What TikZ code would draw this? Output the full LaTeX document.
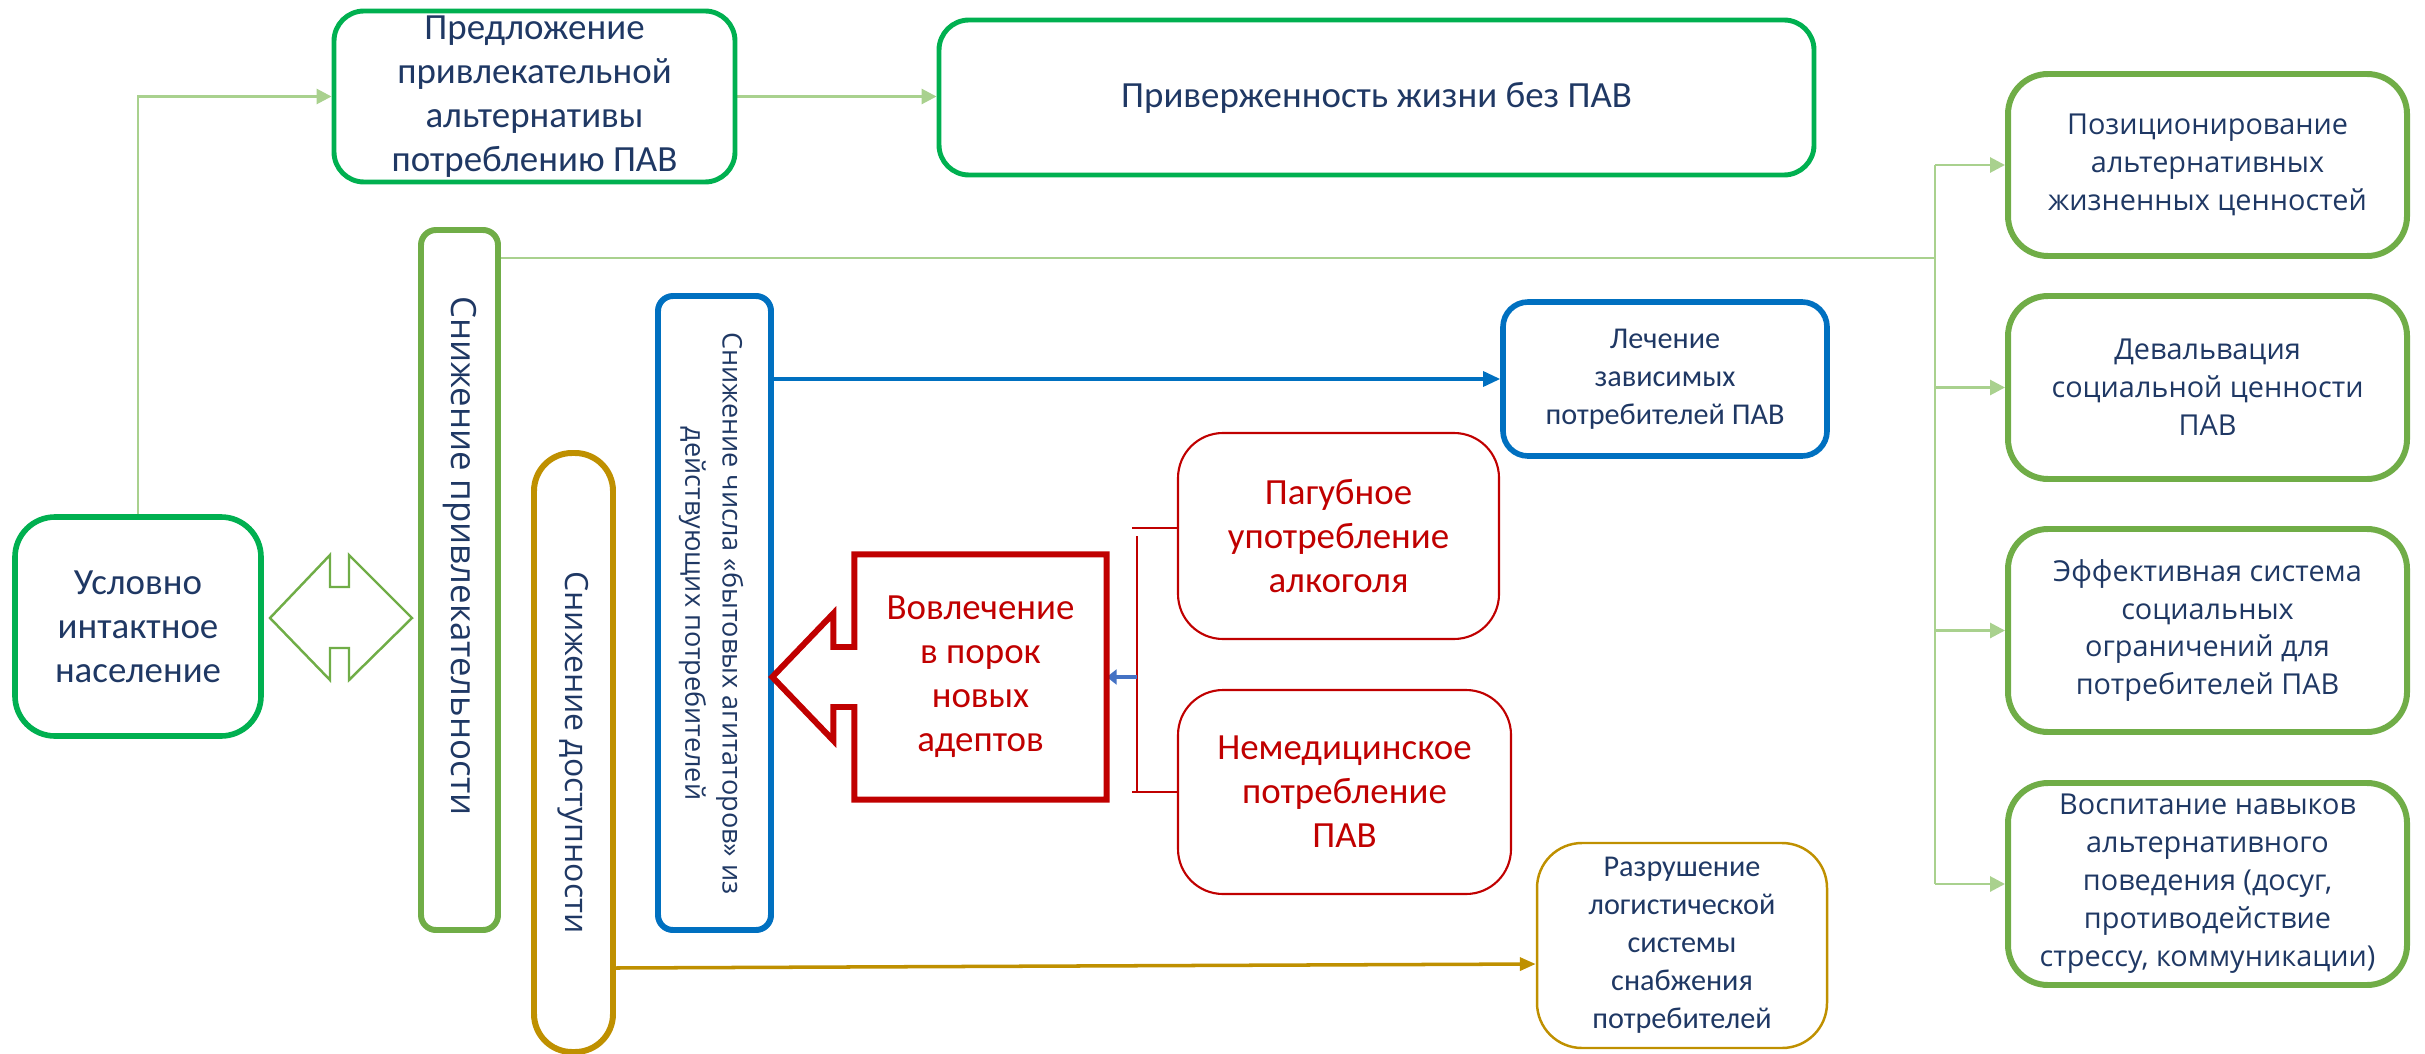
\documentclass[tikz,border=0pt]{standalone}
\usepackage{fontspec}
\setmainfont{Carlito}
\newfontfamily\wideface{Open Sans}
\usepackage{tikz}
\usetikzlibrary{arrows.meta}
\pgfdeclarelayer{bg}
\pgfsetlayers{bg,main}
\definecolor{navy}{HTML}{1F3864}
\definecolor{dgreen}{HTML}{00B050}
\definecolor{lgreen}{HTML}{70AD47}
\definecolor{pgreen}{HTML}{A9D18E}
\definecolor{dblue}{HTML}{0070C0}
\definecolor{lblue}{HTML}{4472C4}
\definecolor{gold}{HTML}{BF9000}
\definecolor{dred}{HTML}{C00000}
\newcommand{\txtbig}{\fontsize{10.5}{12.5}\selectfont}
\newcommand{\txtsmall}{\fontsize{8.6}{10.8}\selectfont}
\newcommand{\txtwide}{\wideface\fontsize{8.2}{10.8}\selectfont}
\tikzset{
        txtbox/.style={align=center, inner sep=0pt, text=navy, font=\txtsmall},
        gbox/.style={txtbox, draw=dgreen, line width=1.4pt, rounded corners=0.3cm, font=\txtbig},
        rbox/.style={txtbox, draw=lgreen, line width=1.7pt, rounded corners=0.4cm, minimum width=3.99cm, font=\txtwide},
        redbox/.style={txtbox, draw=dred, line width=0.6pt, rounded corners=0.45cm, text=dred, font=\txtbig},
        vbar/.style={inner sep=0pt, line width=1.7pt},
        conn/.style={draw=pgreen, line width=0.8pt, -{Triangle[length=1.5mm,width=1.5mm]}},
}

\begin{document}
\begin{tikzpicture}
        \useasboundingbox (0cm, 0cm) rectangle (24.250000cm, -10.540000cm);
        \node (b0) [gbox, line width=1.6pt, rounded corners=0.4cm, minimum width=2.46cm, minimum height=2.19cm] at (1.380000cm, -6.265000cm) {Условно\\интактное\\население};
        \node (b1) [gbox, minimum width=4.01cm, minimum height=1.71cm] at (5.345000cm, -0.965000cm) {Предложение\\привлекательной\\альтернативы\\потреблению ПАВ};
        \node (b2) [gbox, minimum width=8.75cm, minimum height=1.55cm] at (13.765000cm, -0.975000cm) {Приверженность жизни без ПАВ};
        \node (b3) [vbar, draw=lgreen, rounded corners=0.15cm, minimum width=0.77cm, minimum height=7.00cm] at (4.595000cm, -5.800000cm) {};
        \node (b3t) [rotate=-90, text=navy, font={\wideface\fontsize{9.9}{12}\selectfont}] at (4.595000cm, -5.560000cm) {Снижение привлекательности};
        \node (b4) [vbar, draw=gold, rounded corners=0.38cm, minimum width=0.79cm, minimum height=5.99cm] at (5.735000cm, -7.525000cm) {};
        \node (b4t) [rotate=-90, text=navy, font={\wideface\fontsize{9.1}{12}\selectfont}] at (5.735000cm, -7.525000cm) {Снижение доступности};
        \node (b5) [vbar, draw=dblue, rounded corners=0.15cm, minimum width=1.13cm, minimum height=6.34cm] at (7.145000cm, -6.130000cm) {};
        \node (b5t) [rotate=-90, text=navy, font={\wideface\fontsize{7.7}{10.6}\selectfont}, align=center] at (7.110000cm, -6.135000cm) {Снижение числа «бытовых агитаторов» из\\действующих потребителей};
        \node (b6) [txtbox, draw=dblue, line width=1.6pt, rounded corners=0.25cm, minimum width=3.24cm, minimum height=1.54cm] at (16.650000cm, -3.790000cm) {Лечение\\зависимых\\потребителей ПАВ};
        \node (b7) [redbox, minimum width=3.21cm, minimum height=2.06cm] at (13.385000cm, -5.360000cm) {Пагубное\\употребление\\алкоголя};
        \node (b8) [redbox, minimum width=3.33cm, minimum height=2.04cm] at (13.445000cm, -7.920000cm) {Немедицинское\\потребление\\ПАВ};
        \node (b9) [txtbox, text=dred, font=\txtbig, minimum width=2.51cm, minimum height=2.44cm] at (9.805000cm, -6.770000cm) {Вовлечение\\в порок\\новых\\адептов};
        \node (b10) [txtbox, draw=gold, line width=0.7pt, rounded corners=0.45cm, minimum width=2.90cm, minimum height=2.05cm] at (16.820000cm, -9.455000cm) {Разрушение\\логистической\\системы\\снабжения\\потребителей};
        \node (b11) [rbox, minimum height=1.82cm] at (22.075000cm, -1.650000cm) {Позиционирование\\альтернативных\\жизненных ценностей};
        \node (b12) [rbox, minimum height=1.83cm] at (22.075000cm, -3.875000cm) {Девальвация\\социальной ценности\\ПАВ};
        \node (b13) [rbox, minimum height=2.03cm] at (22.075000cm, -6.305000cm) {Эффективная система\\социальных\\ограничений для\\потребителей ПАВ};
        \node (b14) [rbox, minimum height=2.02cm] at (22.075000cm, -8.840000cm) {Воспитание навыков\\альтернативного\\поведения (досуг,\\противодействие\\стрессу, коммуникации)};
        \coordinate (c1) at (19.350000cm, -2.580000cm);
        \coordinate (c2) at (11.370000cm, -6.770000cm);
        \draw [dred, line width=1.7pt] (b9.north east) -- (b9.south east) -- (b9.south west)
                -- ([yshift=-0.30cm]b9.west) -- ([xshift=-0.21cm, yshift=-0.30cm]b9.west)
                -- ([xshift=-0.21cm, yshift=-0.635cm]b9.west) -- ([xshift=-0.82cm]b9.west)
                -- ([xshift=-0.21cm, yshift=0.635cm]b9.west) -- ([xshift=-0.21cm, yshift=0.30cm]b9.west)
                -- ([yshift=0.30cm]b9.west) -- (b9.north west) -- cycle;
        \draw [lgreen, line width=0.7pt] (2.70cm, -6.18cm) -- (3.30cm, -5.55cm) -- (3.30cm, -5.87cm)
                -- (3.49cm, -5.87cm) -- (3.49cm, -5.55cm) -- (4.12cm, -6.18cm) -- (3.49cm, -6.80cm)
                -- (3.49cm, -6.48cm) -- (3.30cm, -6.48cm) -- (3.30cm, -6.80cm) -- cycle;
        \begin{pgfonlayer}{bg}
                \draw [conn] (b0.north) |- (b1.west);
                \draw [conn] (b1.east) -- (b1.east -| b2.west);
                \draw [pgreen, line width=0.8pt] (c1 -| b3.east) -- (c1);
                \draw [pgreen, line width=0.8pt] (c1 |- b11.west) -- (c1 |- b14.west);
                \draw [conn] (c1 |- b11.west) -- (b11.west);
                \draw [conn] (c1 |- b12.west) -- (b12.west);
                \draw [conn] (c1 |- b13.west) -- (b13.west);
                \draw [conn] (c1 |- b14.west) -- (b14.west);
                \draw [dblue, line width=0.9pt, -{Triangle[length=1.7mm, width=1.5mm]}] (b5.east |- b6.west) -- (b6.west);
                \draw [gold, line width=1pt, -{Triangle[length=1.6mm, width=1.3mm]}] ([yshift=-2.155cm]b4.east) -- ([yshift=-0.185cm]b10.west);
                \draw [dred, line width=0.5pt] ([yshift=0.08cm]b7.west) -- ++(-0.45cm, 0cm);
                \draw [dred, line width=0.5pt] (b8.west) -- ++(-0.45cm, 0cm);
                \draw [dred, line width=0.4pt] (c2 |- b7.west) -- (c2 |- b8.west);
                \draw [lblue, line width=0.9pt, -{Triangle[length=1.0mm, width=1.5mm]}] (c2) -- (b9.east);
        \end{pgfonlayer}
\end{tikzpicture}
\end{document}
